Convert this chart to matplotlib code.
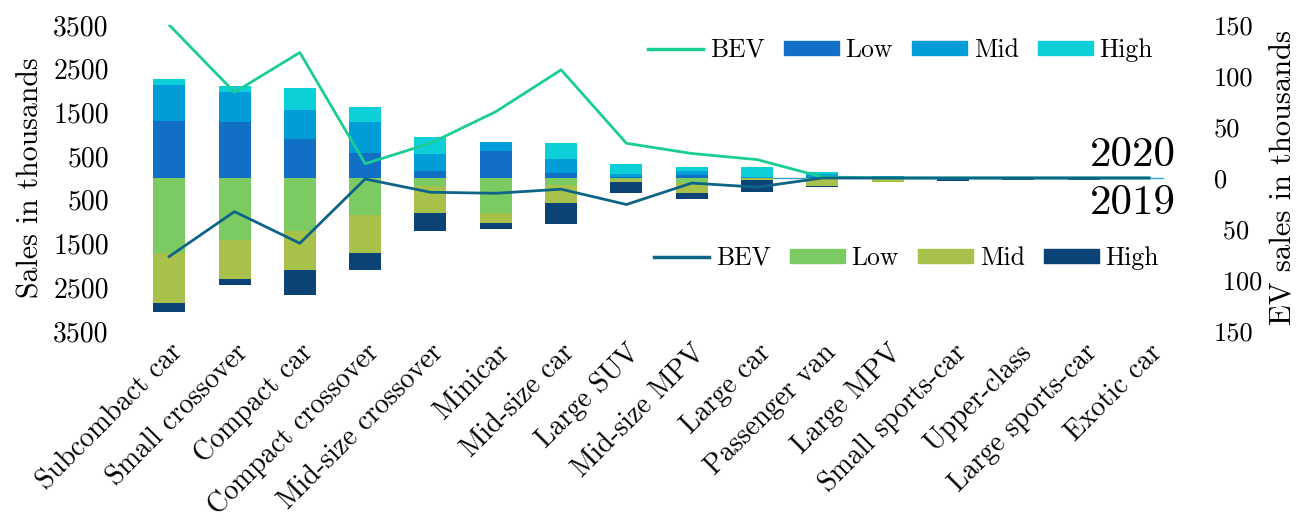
import numpy as np
import matplotlib
matplotlib.use("Agg")
import matplotlib.pyplot as plt
from matplotlib.patches import Patch
from matplotlib.lines import Line2D

plt.rcParams['font.family'] = ['cmr10', 'DejaVu Serif']
plt.rcParams['axes.formatter.use_mathtext'] = True
plt.rcParams['mathtext.fontset'] = 'cm'

# Data (thousands)
segments = ["Subcombact car", "Small crossover", "Compact car", "Compact crossover",
            "Mid-size crossover", "Minicar", "Mid-size car", "Large SUV", "Mid-size MPV",
            "Large car", "Passenger van", "Large MPV", "Small sports-car", "Upper-class",
            "Large sports-car", "Exotic car"]

low_2020 = [1313, 1275, 893, 573, 153, 618, 121, 25, 60, 10, 15, 20, 5, 3, 3, 1]
mid_2020 = [803, 702, 664, 702, 404, 214, 314, 60, 100, 15, 75, 25, 3, 3, 3, 1]
high_2020 = [154, 129, 497, 344, 382, 0, 359, 230, 80, 220, 55, 5, 2, 5, 5, 2]

low_2019 = [1711, 1420, 1214, 840, 191, 809, 160, 15, 120, 10, 5, 5, 3, 3, 3, 1]
mid_2019 = [1139, 892, 893, 871, 618, 229, 420, 85, 220, 30, 170, 80, 5, 5, 5, 1]
high_2019 = [227, 138, 579, 396, 412, 130, 481, 236, 150, 290, 35, 5, 55, 45, 45, 5]

bev_2020 = [150, 84, 123, 14, 34, 65, 106, 34, 24, 18, 1, 0, 0, 0, 0, 0]
bev_2019 = [77, 33, 64, 1, 14, 15, 11, 26, 5, 9, 0, 0, 0, 0, 0, 0]

left_ticks = [-3500, -2500, -1500, -500, 500, 1500, 2500, 3500]
right_ticks = [-150, -100, -50, 0, 50, 100, 150]

# Colours
c_low20, c_mid20, c_high20 = "#1170C6", "#009DD8", "#0DCFD8"
c_low19, c_mid19, c_high19 = "#7CCB62", "#A7C14A", "#0B4377"
c_bev20, c_bev19 = "#1ACD94", "#0E6487"

fig = plt.figure(figsize=(13.04, 5.2), dpi=100)
ax = fig.add_axes([0.1047, 0.3635, 0.8015, 0.5885])
ax2 = ax.twinx()

x = np.arange(len(segments))
w = 0.49
l20, m20, h20 = np.array(low_2020), np.array(mid_2020), np.array(high_2020)
l19, m19, h19 = np.array(low_2019), np.array(mid_2019), np.array(high_2019)

ax.axhline(0, xmin=0.6, xmax=0.982, color="#2BA5CF", lw=1, zorder=0.5)
ax.bar(x, l20, w, color=c_low20)
ax.bar(x, m20, w, bottom=l20, color=c_mid20)
ax.bar(x, h20, w, bottom=l20 + m20, color=c_high20)
ax.bar(x, -l19, w, color=c_low19)
ax.bar(x, -m19, w, bottom=-l19, color=c_mid19)
ax.bar(x, -h19, w, bottom=-(l19 + m19), color=c_high19)

ax2.plot(x, bev_2020, color=c_bev20, lw=2)
ax2.plot(x, -np.array(bev_2019), color=c_bev19, lw=2)

ax.set_xlim(-0.5, len(segments) - 0.5)
ax.set_ylim(-3500, 3500)
ax2.set_ylim(-150, 150)

ax.set_yticks(left_ticks)
ax.set_yticklabels([str(abs(t)) for t in left_ticks])
ax2.set_yticks(right_ticks)
ax2.set_yticklabels([(" " if t in (-50, -100) else "") + str(abs(t)) for t in right_ticks])

ax.set_xticks(x)
ax.set_xticklabels(segments, rotation=45, ha="right", rotation_mode="anchor", fontsize=20)

ax.tick_params(axis="y", length=0, pad=20, labelsize=20)
ax.tick_params(axis="x", length=0, pad=6)
ax2.tick_params(axis="y", length=0, pad=23, labelsize=19)

for a in (ax, ax2):
    for s in a.spines.values():
        s.set_visible(False)

ax.set_ylabel("Sales in thousands", fontsize=21.5, labelpad=6)
ax2.set_ylabel("EV sales in thousands", fontsize=22, labelpad=6)

# Legends
h_top = [Line2D([], [], color=c_bev20, lw=2.5),
         Patch(color=c_low20), Patch(color=c_mid20), Patch(color=c_high20)]
h_bot = [Line2D([], [], color=c_bev19, lw=2.5),
         Patch(color=c_low19), Patch(color=c_mid19), Patch(color=c_high19)]
labels = ["BEV", "Low", "Mid", "High"]

leg_kw = dict(loc="center right", ncol=4, frameon=False, fontsize=18.5, handlelength=2.15,
              handleheight=0.45, columnspacing=0.75, handletextpad=0.25, borderpad=0)
fig.legend(h_top, labels, bbox_to_anchor=(1166 / 1304, 1 - 50 / 520), **leg_kw)
fig.legend(h_bot, labels, bbox_to_anchor=(1172 / 1304, 1 - 258 / 520), **leg_kw)

fig.text(1176 / 1304, 1 - 155 / 520, "2020", fontsize=31, ha="right", va="center")
fig.text(1176 / 1304, 1 - 203 / 520, "2019", fontsize=31, ha="right", va="center")

fig.savefig("out.png", dpi=100)
